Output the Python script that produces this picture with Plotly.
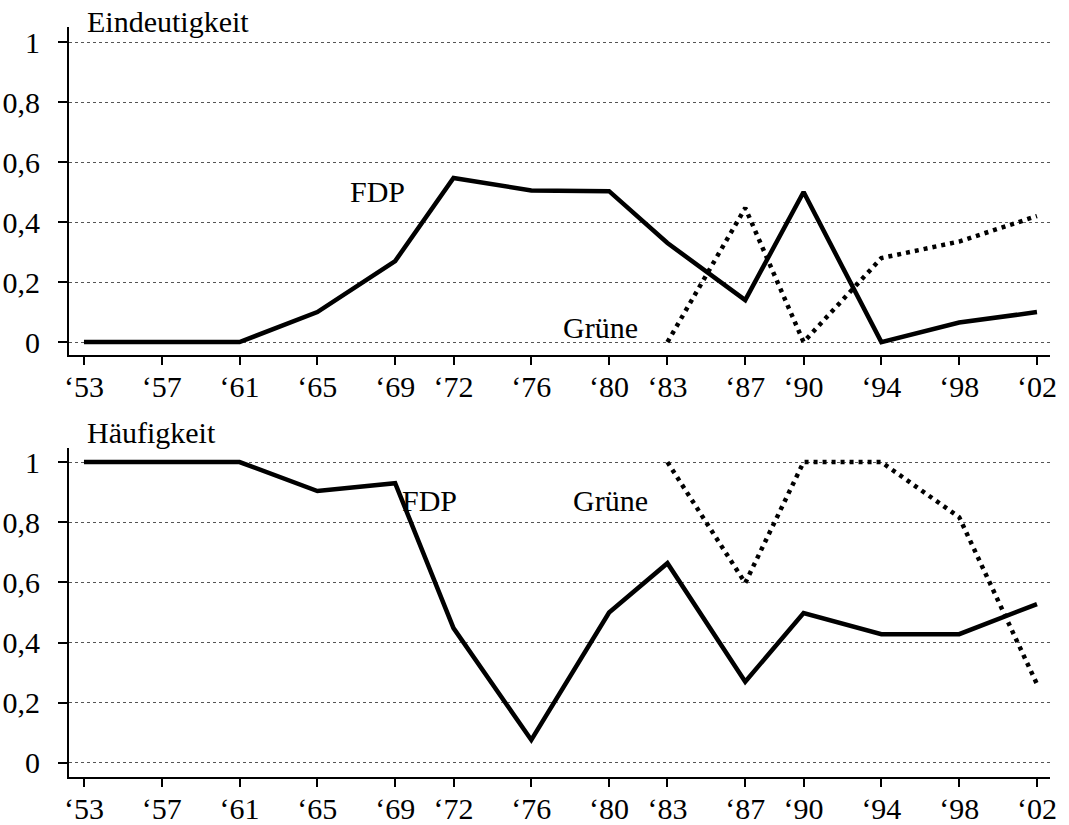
import plotly.graph_objects as go
from plotly.subplots import make_subplots

years = [1953, 1957, 1961, 1965, 1969, 1972, 1976, 1980, 1983, 1987, 1990, 1994, 1998, 2002]
year_labels = ["‘53", "‘57", "‘61", "‘65", "‘69", "‘72", "‘76", "‘80", "‘83", "‘87", "‘90", "‘94", "‘98", "‘02"]
gruene_years = [1983, 1987, 1990, 1994, 1998, 2002]

# Eindeutigkeit (upper panel)
eind_fdp = [0, 0, 0, 0.10, 0.27, 0.547, 0.505, 0.503, 0.33, 0.14, 0.50, 0.0, 0.065, 0.10]
eind_gruene = [0, 0.447, 0, 0.28, 0.335, 0.42]

# Häufigkeit (lower panel)
haeuf_fdp = [1, 1, 1, 0.904, 0.93, 0.448, 0.076, 0.50, 0.664, 0.27, 0.498, 0.428, 0.428, 0.528]
haeuf_gruene = [1, 0.598, 1, 1, 0.817, 0.262]

y_ticks = [0, 0.2, 0.4, 0.6, 0.8, 1]
y_tick_labels = ["0", "0,2", "0,4", "0,6", "0,8", "1"]

FONT = "Liberation Serif"
FS = 30

fig = make_subplots(rows=2, cols=1, shared_xaxes=False, vertical_spacing=0.124)

solid = dict(color="black", width=4.5)
dotted = dict(color="black", width=4.5, dash="4px,5px")

fig.add_trace(go.Scatter(x=years, y=eind_fdp, mode="lines", line=solid, showlegend=False), row=1, col=1)
fig.add_trace(go.Scatter(x=gruene_years, y=eind_gruene, mode="lines", line=dotted, showlegend=False), row=1, col=1)
fig.add_trace(go.Scatter(x=years, y=haeuf_fdp, mode="lines", line=solid, showlegend=False), row=2, col=1)
fig.add_trace(go.Scatter(x=gruene_years, y=haeuf_gruene, mode="lines", line=dotted, showlegend=False), row=2, col=1)

xcommon = dict(
    range=[1952.23, 2002.67], tickmode="array", tickvals=years, ticktext=year_labels,
    showgrid=False, zeroline=False, showline=True, linecolor="black", linewidth=2,
    ticks="outside", ticklen=8, tickwidth=2, tickcolor="black", automargin=False,
    ticklabelstandoff=-4,
    tickfont=dict(family=FONT, size=FS, color="black"),
)
ycommon = dict(
    tickmode="array", tickvals=y_ticks, ticktext=y_tick_labels,
    showgrid=True, gridcolor="#555", gridwidth=1, griddash="dot", zeroline=False,
    showline=True, linecolor="black", linewidth=2, automargin=False,
    ticks="outside", ticklen=9, tickwidth=2, tickcolor="black", ticklabelstandoff=12,
    tickfont=dict(family=FONT, size=FS, color="black"),
)

fig.update_layout(
    width=1069, height=825,
    margin=dict(l=69, r=19, t=27, b=48),
    paper_bgcolor="white", plot_bgcolor="white",
    xaxis=dict(domain=[0, 1], **xcommon),
    xaxis2=dict(domain=[0, 1], **xcommon),
    yaxis=dict(domain=[0.5627, 1.0], range=[-0.043, 1.05], **ycommon),
    yaxis2=dict(domain=[0.0, 0.4387], range=[-0.047, 1.047], **ycommon),
)

afont = dict(family=FONT, size=FS, color="black")
annots = [
    dict(text="Eindeutigkeit", xref="paper", yref="paper", x=0.0163, y=1.0067, xanchor="left", yanchor="middle"),
    dict(text="Häufigkeit", xref="paper", yref="paper", x=0.0163, y=0.4587, xanchor="left", yanchor="middle"),
    dict(text="FDP", xref="x", yref="y", x=1968.1, y=0.503, xanchor="center", yanchor="middle"),
    dict(text="Grüne", xref="x", yref="y", x=1979.56, y=0.05, xanchor="center", yanchor="middle"),
    dict(text="FDP", xref="x2", yref="y2", x=1970.74, y=0.874, xanchor="center", yanchor="middle"),
    dict(text="Grüne", xref="x2", yref="y2", x=1980.08, y=0.874, xanchor="center", yanchor="middle"),
]
for a in annots:
    a.update(showarrow=False, font=afont)
fig.update_layout(annotations=annots)

fig.write_html("out.html", config={"displayModeBar": False},
               post_script="document.body.style.margin='0';")
